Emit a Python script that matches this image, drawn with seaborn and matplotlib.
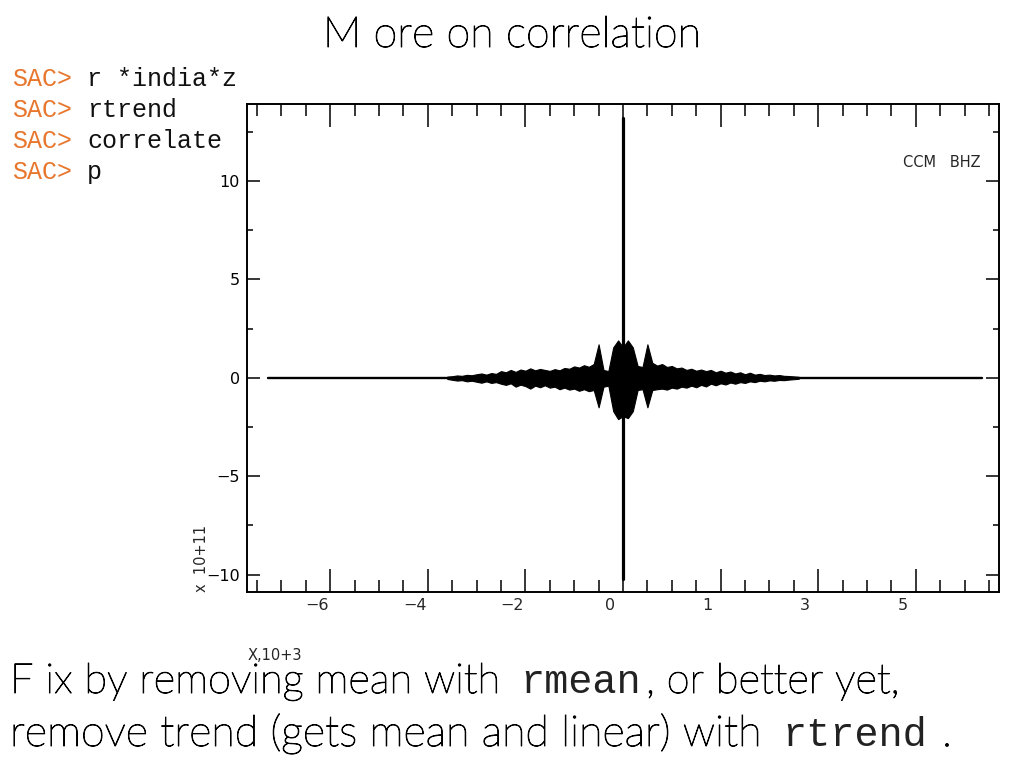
import numpy as np
import pandas as pd
import matplotlib
matplotlib.use("Agg")
import matplotlib.pyplot as plt
import matplotlib.patheffects as pe
import seaborn as sns
from matplotlib.transforms import ScaledTranslation

# cross-correlation (lag in units of 10^3 samples, amplitude in 10^11)
lag = np.round(np.arange(-3.6, 3.61, 0.1), 1)
upper = [0.06, 0.08, 0.12, 0.10, 0.15, 0.13, 0.18, 0.22, 0.16, 0.24, 0.20,
         0.34, 0.28, 0.40, 0.30, 0.42, 0.36, 0.48, 0.38, 0.45, 0.40, 0.35,
         0.44, 0.38, 0.50, 0.46, 0.58, 0.52, 0.64, 0.56, 0.70, 1.70, 0.40,
         0.34, 1.55, 1.90, 1.55, 1.90, 1.55, 0.60, 0.55, 1.70, 0.76, 0.62,
         0.70, 0.55, 0.60, 0.48, 0.52, 0.40, 0.46, 0.36, 0.42, 0.34, 0.40,
         0.28, 0.36, 0.26, 0.32, 0.22, 0.28, 0.18, 0.26, 0.16, 0.20, 0.14,
         0.16, 0.12, 0.14, 0.10, 0.09, 0.07, 0.05]
lower = [0.06, 0.10, 0.14, 0.12, 0.18, 0.15, 0.20, 0.25, 0.18, 0.26, 0.22,
         0.30, 0.36, 0.28, 0.45, 0.35, 0.42, 0.55, 0.40, 0.48, 0.38, 0.50,
         0.45, 0.58, 0.50, 0.60, 0.55, 0.66, 0.58, 0.68, 0.62, 1.50, 0.45,
         0.40, 1.70, 2.10, 1.95, 2.05, 1.70, 0.62, 0.58, 1.50, 0.62, 0.58,
         0.55, 0.60, 0.50, 0.55, 0.45, 0.50, 0.40, 0.48, 0.36, 0.44, 0.30,
         0.38, 0.28, 0.34, 0.24, 0.30, 0.22, 0.26, 0.18, 0.22, 0.15, 0.18,
         0.13, 0.15, 0.11, 0.12, 0.09, 0.07, 0.05]
base_x = [-7.28, 7.36]
base_y = [0.0, 0.0]
spike_x = [0.0, 0.0]
spike_y = [-10.2, 13.2]

xtick_pos = [-6, -4, -2, 0, 2, 4, 6]
xtick_text = ["\u22126", "\u22124", "\u22122", "0", "1", "3", "5"]
ytick_pos = [-10, -5, 0, 5, 10]
ytick_text = ["\u221210", "\u22125", "0", "5", "10"]

sac_prompt = ["SAC>", "SAC>", "SAC>", "SAC>"]
sac_cmd = ["r *india*z", "rtrend", "correlate", "p"]

sns.set_style("white")
plt.rcParams["font.family"] = ["DejaVu Sans"]
narrow = ["Liberation Sans Narrow", "DejaVu Sans"]
hand = ["Lato", "DejaVu Sans"]
mono = ["Liberation Mono", "DejaVu Sans Mono"]
ink = [pe.withStroke(linewidth=0.7, foreground="black")]

fig = plt.figure(figsize=(10.24, 7.68), dpi=100)
ax = fig.add_axes([0.2409, 0.2288, 0.735, 0.6354])

lo = [-v for v in lower]
ax.fill_between(lag, upper, lo, color="black", edgecolor="black", lw=0.8)
sns.lineplot(x=base_x, y=base_y, color="black", lw=1.7, ax=ax)
sns.lineplot(x=spike_x, y=spike_y, color="black", lw=2.3, estimator=None, sort=False, ax=ax)

ax.set_xlim(-7.71, 7.71)
ax.set_ylim(-10.9, 13.9)
ax.set_xticks(xtick_pos)
ax.set_xticklabels([])
ax.set_xticks(np.arange(-7.5, 7.6, 0.5), minor=True)
ax.set_yticks(ytick_pos)
ax.set_yticklabels(ytick_text, family=narrow, fontsize=11.5)
ax.set_yticks(np.arange(-10, 13, 2.5), minor=True)

ax.tick_params(axis="x", which="major", direction="in", length=16.5, width=1.1,
               top=True, bottom=True, colors="black")
ax.tick_params(axis="x", which="minor", direction="in", length=8.7, width=1.1,
               top=True, bottom=True, colors="black")
ax.tick_params(axis="y", which="major", direction="in", length=9.4, width=1.1,
               left=True, right=True, colors="black", pad=5)
ax.tick_params(axis="y", which="minor", direction="in", length=4.5, width=1.1,
               left=True, right=True, colors="black")
for s in ax.spines.values():
    s.set_color("black")
    s.set_linewidth(1.4)

# SAC puts its x labels a bit left of the long ticks
shift = ax.get_xaxis_transform() + ScaledTranslation(-0.13, 0, fig.dpi_scale_trans)
for p, t in zip(xtick_pos, xtick_text):
    ax.text(p, -0.011, t, transform=shift, ha="center", va="top",
            family=narrow, fontsize=11.5)

ax.text(0.975, 0.88, "CCM   BHZ", transform=ax.transAxes, ha="right", va="center",
        family=narrow, fontsize=10.5)
fig.text(201 / 1024, 1 - 592 / 768, "x  10+11", rotation=90, ha="center", va="bottom",
         family=narrow, fontsize=10.5)
fig.text(248 / 1024, 1 - 655 / 768, "X,10+3", ha="left", va="center",
         family=narrow, fontsize=10.5)

fig.text(0.500, 1 - 47 / 768, "M ore on correlation", ha="center", va="baseline",
         family=hand, fontweight="light", color="black", fontsize=31, path_effects=ink)

for i, (pr, cmd) in enumerate(zip(sac_prompt, sac_cmd)):
    yb = 1 - (86 + 31 * i) / 768
    fig.text(12 / 1024, yb, pr, color="#E8772E", family=mono, fontsize=18, va="baseline")
    fig.text(87 / 1024, yb, cmd, color="#111111", family=mono, fontsize=18, va="baseline")

y1 = 1 - 693 / 768
y2 = 1 - 746 / 768
fig.text(10 / 1024, y1, "F ix by removing mean with", family=hand, fontweight="light",
         color="black", fontsize=30, va="baseline", path_effects=ink)
fig.text(520 / 1024, y1, "rmean", family=mono, fontsize=29, color="#222222", va="baseline")
fig.text(646 / 1024, y1, ", or better yet,", family=hand, fontweight="light",
         color="black", fontsize=30, va="baseline", path_effects=ink)
fig.text(10 / 1024, y2, "remove trend (gets mean and linear) with", family=hand,
         fontweight="light", color="black", fontsize=31, va="baseline", path_effects=ink)
fig.text(782 / 1024, y2, "rtrend", family=mono, fontsize=29, color="#222222", va="baseline")
fig.text(942 / 1024, y2, ".", family=hand, fontweight="light", color="black",
         fontsize=31, va="baseline", path_effects=ink)

fig.savefig("out.png", dpi=100, facecolor="white")
